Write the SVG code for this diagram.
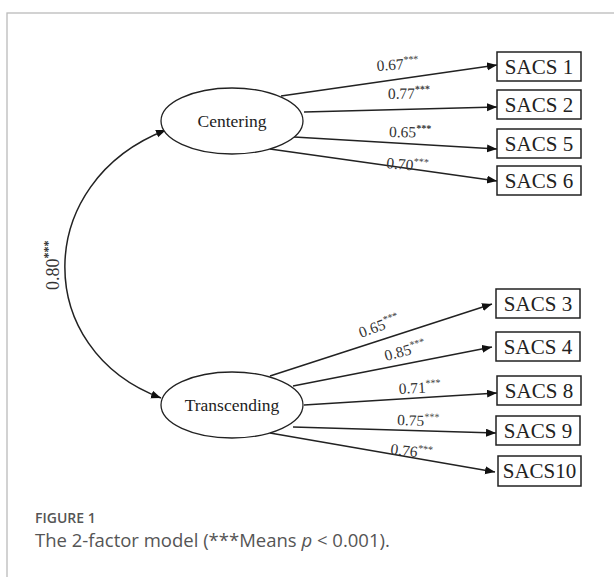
<svg xmlns="http://www.w3.org/2000/svg" width="614" height="577" viewBox="0 0 614 577">
<style>
.lv{fill:#fff;stroke:#222;stroke-width:1.3}
.ob{fill:#fff;stroke:#222;stroke-width:1.5}
.lt{font-family:"Liberation Serif",serif;font-size:17.5px;fill:#222;text-anchor:middle}
.bt{font-family:"Liberation Serif",serif;font-size:21px;fill:#222;text-anchor:middle}
.lab{font-family:"Liberation Serif",serif;font-size:15.5px;fill:#333}
.st{font-size:10px}
.ln{fill:none;stroke:#222;stroke-width:1.5}
.cap{font-family:"Open Sans",sans-serif;fill:#555}
</style>
<defs>
<marker id="ah" markerUnits="userSpaceOnUse" markerWidth="11" markerHeight="9" refX="10" refY="4" orient="auto-start-reverse">
<path d="M0,0 L10,4 L0,8 z" fill="#111"/>
</marker>
</defs>
<rect x="7" y="13" width="640" height="620" fill="none" stroke="#bbb" stroke-width="1.3"/>
<g id="connectors">
<path class="ln" d="M166,130 C32,182 32,350 161,398" marker-start="url(#ah)" marker-end="url(#ah)"/>
<line class="ln" x1="281" y1="96" x2="497" y2="65" marker-end="url(#ah)"/>
<line class="ln" x1="304" y1="112" x2="497" y2="107" marker-end="url(#ah)"/>
<line class="ln" x1="294" y1="137" x2="497" y2="149" marker-end="url(#ah)"/>
<line class="ln" x1="270" y1="149" x2="497" y2="181" marker-end="url(#ah)"/>
<line class="ln" x1="270" y1="376" x2="492" y2="304" marker-end="url(#ah)"/>
<line class="ln" x1="293" y1="386" x2="492" y2="347" marker-end="url(#ah)"/>
<line class="ln" x1="304" y1="405" x2="497" y2="393" marker-end="url(#ah)"/>
<line class="ln" x1="293" y1="427" x2="496" y2="433" marker-end="url(#ah)"/>
<line class="ln" x1="270" y1="433" x2="495" y2="472" marker-end="url(#ah)"/>
<text class="lab" transform="translate(59,290) rotate(-90)" style="font-size:18px">0.80<tspan dy="-7" style="font-size:12px;font-weight:bold">***</tspan></text>
<text class="lab" transform="translate(377,71) rotate(-4)">0.67<tspan class="st" dy="-6">***</tspan></text>
<text class="lab" transform="translate(388,99) rotate(-1)">0.77<tspan class="st" dy="-6" font-weight="bold">***</tspan></text>
<text class="lab" transform="translate(389,137) rotate(1)">0.65<tspan class="st" dy="-6" font-weight="bold">***</tspan></text>
<text class="lab" transform="translate(386,168) rotate(5)">0.70<tspan class="st" dy="-6">***</tspan></text>
<text class="lab" transform="translate(361,338) rotate(-20)">0.65<tspan class="st" dy="-6">***</tspan></text>
<text class="lab" transform="translate(386,361) rotate(-15)">0.85<tspan class="st" dy="-6">***</tspan></text>
<text class="lab" transform="translate(399,394) rotate(-3)">0.71<tspan class="st" dy="-6">***</tspan></text>
<text class="lab" transform="translate(397,425) rotate(2)">0.75<tspan class="st" dy="-6">***</tspan></text>
<text class="lab" transform="translate(390,454) rotate(7)">0.76<tspan class="st" dy="-6">***</tspan></text>
</g>
<g id="centering">
<ellipse class="lv" cx="232" cy="121" rx="71" ry="33"/>
<text class="lt" x="232" y="127">Centering</text>
</g>
<g id="transcending">
<ellipse class="lv" cx="232" cy="405" rx="71" ry="33"/>
<text class="lt" x="232" y="411">Transcending</text>
</g>
<g id="sacs1"><rect class="ob" x="497" y="52" width="84" height="29"/><text class="bt" x="539" y="73.5">SACS 1</text></g>
<g id="sacs2"><rect class="ob" x="497" y="90" width="84" height="29"/><text class="bt" x="539" y="111.5">SACS 2</text></g>
<g id="sacs5"><rect class="ob" x="497" y="129" width="84" height="29"/><text class="bt" x="539" y="150.5">SACS 5</text></g>
<g id="sacs6"><rect class="ob" x="497" y="166" width="84" height="29"/><text class="bt" x="539" y="187.5">SACS 6</text></g>
<g id="sacs3"><rect class="ob" x="496" y="289" width="84" height="29"/><text class="bt" x="538" y="310.5">SACS 3</text></g>
<g id="sacs4"><rect class="ob" x="496" y="332" width="84" height="29"/><text class="bt" x="538" y="353.5">SACS 4</text></g>
<g id="sacs8"><rect class="ob" x="497" y="376" width="84" height="29"/><text class="bt" x="539" y="397.5">SACS 8</text></g>
<g id="sacs9"><rect class="ob" x="496" y="416" width="84" height="29"/><text class="bt" x="538" y="437.5">SACS 9</text></g>
<g id="sacs10"><rect class="ob" x="498" y="456" width="83" height="30"/><text class="bt" x="539.5" y="478">SACS10</text></g>
<text class="cap" x="35" y="523" style="font-size:14px;font-weight:600">FIGURE 1</text>
<text class="cap" x="35" y="547" style="font-size:18.5px">The 2-factor model (***Means <tspan font-style="italic">p</tspan> &lt; 0.001).</text>
</svg>
